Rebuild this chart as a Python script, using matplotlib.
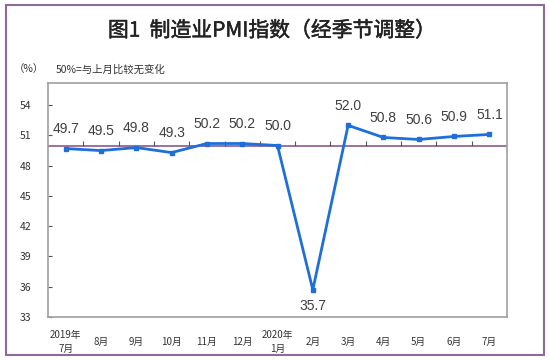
import matplotlib.pyplot as plt
import matplotlib.patheffects as pe
from matplotlib.patches import Rectangle

plt.rcParams['font.family'] = ['Noto Sans CJK SC', 'DejaVu Sans']

months = ['2019年\n7月', '8月', '9月', '10月', '11月', '12月', '2020年\n1月',
          '2月', '3月', '4月', '5月', '6月', '7月']
pmi = [49.7, 49.5, 49.8, 49.3, 50.2, 50.2, 50.0, 35.7, 52.0, 50.8, 50.6, 50.9, 51.1]
yticks = [33, 36, 39, 42, 45, 48, 51, 54]

fig = plt.figure(figsize=(5.5, 3.6), dpi=100)
fig.patches.append(Rectangle((6 / 550, 5 / 360), 538 / 550, 350 / 360,
                             transform=fig.transFigure, fill=False,
                             edgecolor='#8E6A9A', linewidth=1.5))

# semi-bold look for the title
fig.text(0.495, 0.915, '图1  制造业PMI指数（经季节调整）', ha='center', va='center',
         fontsize=15, color='#222222',
         path_effects=[pe.withStroke(linewidth=0.35, foreground='#222222')])
fig.text(0.025, 0.808, '（%）', ha='left', va='center', fontsize=7.5, color='#333333')
fig.text(0.102, 0.808, '50%=与上月比较无变化', ha='left', va='center',
         fontsize=7.5, color='#333333')

ax = fig.add_axes([48 / 550, 43 / 360, 459 / 550, 234 / 360])
x = list(range(len(months)))

ax.axhline(50, color='#8B5A8B', linewidth=1.2, zorder=1)
bounds = [i + 0.5 for i in range(len(months) - 1)]
ax.vlines(bounds, 50, 50.45, color='#555555', linewidth=0.8, zorder=1)

ax.plot(x, pmi, color='#1E6FD9', linewidth=2, marker='s', markersize=3.5, zorder=3)

for xi, v in zip(x, pmi):
    if v < 40:
        ax.annotate(f'{v:.1f}', (xi, v), xytext=(0, -12), textcoords='offset points',
                    ha='center', va='center', fontsize=10, color='#404040',
                    family='Liberation Sans')
    else:
        ax.annotate(f'{v:.1f}', (xi, v), xytext=(0, 14), textcoords='offset points',
                    ha='center', va='center', fontsize=10, color='#404040',
                    family='Liberation Sans')

ax.set_xlim(-0.5, len(months) - 0.5)
ax.set_ylim(33, 56.2)
ax.set_yticks(yticks)
ax.set_yticklabels([str(t) for t in yticks], fontsize=7.5, color='#333333')
ax.set_xticks(x)
ax.set_xticklabels(months, fontsize=7, color='#333333', linespacing=1.4)
ax.tick_params(axis='x', length=0, pad=18)
ax.tick_params(axis='y', direction='in', length=3, pad=12, color='#555555')
for lbl in ax.get_xticklabels():
    lbl.set_va('center')

for s in ax.spines.values():
    s.set_color('#A0A0A0')
    s.set_linewidth(1.2)

fig.savefig('out.png', dpi=100)
